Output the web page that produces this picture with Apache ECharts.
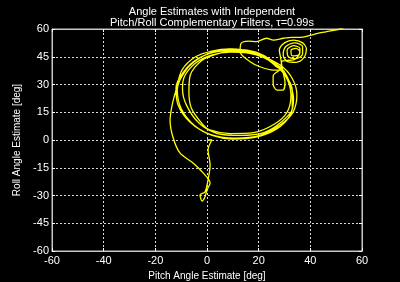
<!DOCTYPE html>
<html>
<head>
<meta charset="utf-8">
<script src="https://cdn.jsdelivr.net/npm/echarts@6/dist/echarts.min.js"></script>
<style>
  html, body { margin: 0; padding: 0; background: #000; }
  #chart { width: 400px; height: 282px; }
</style>
</head>
<body>
<div id="chart"></div>
<script>
// tick labels
const xTicks = [-60, -40, -20, 0, 20, 40, 60];
const yTicks = [-60, -45, -30, -15, 0, 15, 30, 45, 60];

// trajectory, in degrees (pitch = x, roll = y)
// start at the origin, drop to the bottom tail, climb the left side
const tailPitch = [0, 1.9, 0.4, 1.2, 0.4, -0.8, -2.7, -1.9, -0.8, 0, 1.2, -1.5, -5.4, -10.5, -13.2, -14.3, -13.5, -12];
const tailRoll  = [0, 0, -5.4, -13.5, -21.6, -28.1, -29.7, -33, -30.8, -27, -23.2, -17.8, -12.4, -7, 1.6, 10.8, 18.9, 27];

// the big loop, traced several times
const loopPitch = [
  -9.7, -4.6, 1.9, 8.9, 15, 20.5, 28.3, 32.9, 34.8, 33.3, 28.3, 20.5, 10.8, 1.2, -6.6, -11.2, -12,
  -9, -3.5, 3, 10, 17, 23, 29, 32, 33.5, 32, 27, 19, 10, 2, -5, -10, -11.5,
  -8, -2, 5, 12, 19, 25, 30, 33, 33, 29, 22, 13, 4, -3, -8, -9.5,
  -8.5, -4, 2, 9, 16, 22, 27, 31, 32.5, 31, 26, 18, 9, 1, -2, -6, -7, -6.5, -2, 5, 12, 19, 24
];
const loopRoll = [
  37.8, 44.9, 48.1, 49.2, 48.2, 45.9, 40.5, 33.5, 24.3, 15.1, 8.1, 2.5, 1, 3, 9.7, 18.9, 28.1,
  37, 44, 47.5, 48.5, 47, 44, 38.5, 31, 22, 13, 6, 1.5, 0.5, 2.5, 8, 17, 27,
  38, 45, 48.5, 49, 47.5, 43, 36, 27, 17, 10, 4, 2.5, 3.5, 9, 19, 28,
  35, 42, 46, 47.5, 47, 44.5, 40, 33, 24, 15, 8.5, 4, 3.5, 5.5, 9, 17, 26, 35, 43, 47, 48, 46.5, 43
];

// small lobe hanging under the knot, then the knot itself
const knotPitch = [
  27, 28.3, 25.6, 25.6, 27.1, 29.4, 30.2, 29.4, 29,
  28.5, 28, 30, 33.5, 37, 38.5, 37.5, 34.5, 31, 29.5, 30.5, 34, 37, 37, 34.5, 31.5, 31, 33.5, 36, 35.5, 33, 32.5, 34.5, 36, 34, 31, 29
];
const knotRoll = [
  39.5, 38.4, 34.6, 30.3, 27, 27, 31.4, 36.8, 40,
  44.5, 48.5, 52.5, 54, 52.5, 49, 44.5, 42, 42.5, 46, 50.5, 52.5, 50.5, 46.5, 44, 45, 48.5, 51, 49.5, 46, 45.5, 48.5, 49.5, 47.5, 43.5, 43, 42.5
];

// leaves the knot to the left, runs back along the top and off the plot
const exitPitch = [28.3, 25.7, 20.5, 16.7, 12.8, 13.2, 16, 19.2, 23, 25.7, 29.6, 33, 36, 39.8, 42.5, 46, 51.5, 54];
const exitRoll  = [37.8, 37.8, 39.6, 42.3, 47.7, 52.3, 53.5, 53.2, 55, 54, 55, 55.5, 55.5, 56.5, 57.5, 58.5, 60, 61.5];

const pitch = tailPitch.concat(loopPitch, knotPitch, exitPitch);
const roll = tailRoll.concat(loopRoll, knotRoll, exitRoll);
const points = pitch.map((p, i) => [p, roll[i]]);

const FONT = 'Arial, "Liberation Sans", sans-serif';
const FRAME = { show: true, onZero: false, lineStyle: { color: '#c8c8c8' } };
const TICK = { show: true, inside: true, length: 3, lineStyle: { color: '#fff' } };
const GRIDLINE = { show: true, lineStyle: { color: '#d8d8d8', type: [2, 2], width: 1 } };

const chart = echarts.init(document.getElementById('chart'));
chart.setOption({
  backgroundColor: '#000',
  animation: false,
  title: {
    text: 'Angle Estimates with Independent\nPitch/Roll Complementary Filters, τ=0.99s',
    left: 207,
    top: 1,
    textAlign: 'center',
    textStyle: { color: '#fff', fontSize: 11, fontWeight: 'normal', fontFamily: FONT, lineHeight: 11 }
  },
  grid: {
    left: 52, right: 38, top: 29, bottom: 31, outerBoundsMode: 'none',
    show: true, borderColor: '#c8c8c8', borderWidth: 1
  },
  xAxis: [
    {
      type: 'value', min: -60, max: 60, interval: 20,
      name: 'Pitch Angle Estimate [deg]', nameLocation: 'middle', nameGap: 15,
      nameTextStyle: { color: '#fff', fontSize: 10, fontFamily: FONT },
      axisLine: FRAME,
      axisTick: TICK,
      axisLabel: { color: '#fff', fontSize: 11, fontFamily: FONT, margin: 4,
        formatter: (v) => (xTicks.includes(v) ? String(v) : '') },
      splitLine: GRIDLINE
    },
    {
      type: 'value', min: -60, max: 60, interval: 20, position: 'top',
      axisLine: FRAME, axisTick: TICK,
      axisLabel: { show: false },
      splitLine: { show: false }
    }
  ],
  yAxis: [
    {
      type: 'value', min: -60, max: 60, interval: 15,
      name: 'Roll Angle Estimate [deg]', nameLocation: 'middle', nameGap: 20,
      nameTextStyle: { color: '#fff', fontSize: 10, fontFamily: FONT },
      axisLine: FRAME,
      axisTick: TICK,
      axisLabel: { color: '#fff', fontSize: 11, fontFamily: FONT, margin: 3,
        formatter: (v) => (yTicks.includes(v) ? String(v) : '') },
      splitLine: GRIDLINE
    },
    {
      type: 'value', min: -60, max: 60, interval: 15, position: 'right',
      axisLine: FRAME, axisTick: TICK,
      axisLabel: { show: false },
      splitLine: { show: false }
    }
  ],
  series: [
    {
      type: 'line',
      data: points,
      showSymbol: false,
      smooth: 0.3,
      clip: true,
      lineStyle: { color: '#ffff00', width: 1.3 }
    }
  ]
});
</script>
</body>
</html>
